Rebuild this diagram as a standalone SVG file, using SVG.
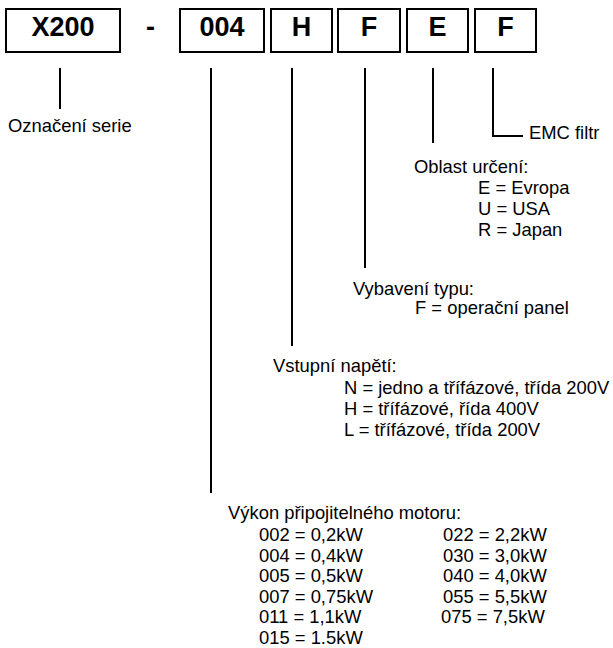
<svg xmlns="http://www.w3.org/2000/svg" width="613" height="648" viewBox="0 0 613 648">
<style>
.box{fill:#fff;stroke:#000;stroke-width:2}
.lbl{font-family:"Liberation Sans",Arial,sans-serif;font-weight:bold;font-size:27px;text-anchor:middle;fill:#000}
.t{font-family:"Liberation Sans",Arial,sans-serif;font-size:18.4px;fill:#000}
.ln{stroke:#000;stroke-width:2;fill:none}
</style>
<rect width="613" height="648" fill="#fff"/>
<g id="box-x200"><rect class="box" x="6" y="9" width="114" height="43"/><text class="lbl" x="63" y="36">X200</text></g>
<g id="dash"><text class="lbl" x="150.5" y="36">-</text></g>
<g id="box-004"><rect class="box" x="180" y="9" width="84" height="43"/><text class="lbl" x="222" y="36">004</text></g>
<g id="box-h"><rect class="box" x="271" y="9" width="61" height="43"/><text class="lbl" x="301.5" y="36">H</text></g>
<g id="box-f1"><rect class="box" x="338" y="9" width="62" height="43"/><text class="lbl" x="369" y="36">F</text></g>
<g id="box-e"><rect class="box" x="407" y="9" width="61" height="43"/><text class="lbl" x="437.5" y="36">E</text></g>
<g id="box-f2"><rect class="box" x="475" y="9" width="61" height="43"/><text class="lbl" x="505.5" y="36">F</text></g>
<g id="connectors">
<line class="ln" x1="60" y1="68" x2="60" y2="109"/>
<line class="ln" x1="211" y1="68" x2="211" y2="493"/>
<line class="ln" x1="292" y1="68" x2="292" y2="346"/>
<line class="ln" x1="365" y1="68" x2="365" y2="268"/>
<line class="ln" x1="433" y1="68" x2="433" y2="143"/>
<polyline class="ln" points="493,68 493,136 523,136"/>
</g>
<g id="note-serie"><text class="t" x="8" y="132">Označení serie</text></g>
<g id="note-emc"><text class="t" x="529" y="139">EMC filtr</text></g>
<g id="note-oblast">
<text class="t" x="414" y="173">Oblast určení:</text>
<text class="t" x="478" y="194">E = Evropa</text>
<text class="t" x="478" y="215">U = USA</text>
<text class="t" x="478" y="236">R = Japan</text>
</g>
<g id="note-vybaveni">
<text class="t" x="353" y="295">Vybavení typu:</text>
<text class="t" x="415" y="314">F = operační panel</text>
</g>
<g id="note-napeti">
<text class="t" x="273" y="372">Vstupní napětí:</text>
<text class="t" x="344" y="394">N = jedno a třífázové, třída 200V</text>
<text class="t" x="344" y="415">H = třífázové, řída 400V</text>
<text class="t" x="344" y="436">L = třífázové, třída 200V</text>
</g>
<g id="note-vykon">
<text class="t" x="228" y="519">Výkon připojitelného motoru:</text>
<text class="t" x="259" y="541.3">002 = 0,2kW</text>
<text class="t" x="259" y="561.8">004 = 0,4kW</text>
<text class="t" x="259" y="582.3">005 = 0,5kW</text>
<text class="t" x="259" y="602.8">007 = 0,75kW</text>
<text class="t" x="259" y="623.3">011 = 1,1kW</text>
<text class="t" x="259" y="643.8">015 = 1.5kW</text>
<text class="t" x="443" y="541.3">022 = 2,2kW</text>
<text class="t" x="443" y="561.8">030 = 3,0kW</text>
<text class="t" x="443" y="582.3">040 = 4,0kW</text>
<text class="t" x="443" y="602.8">055 = 5,5kW</text>
<text class="t" x="441" y="623.3">075 = 7,5kW</text>
</g>
</svg>
